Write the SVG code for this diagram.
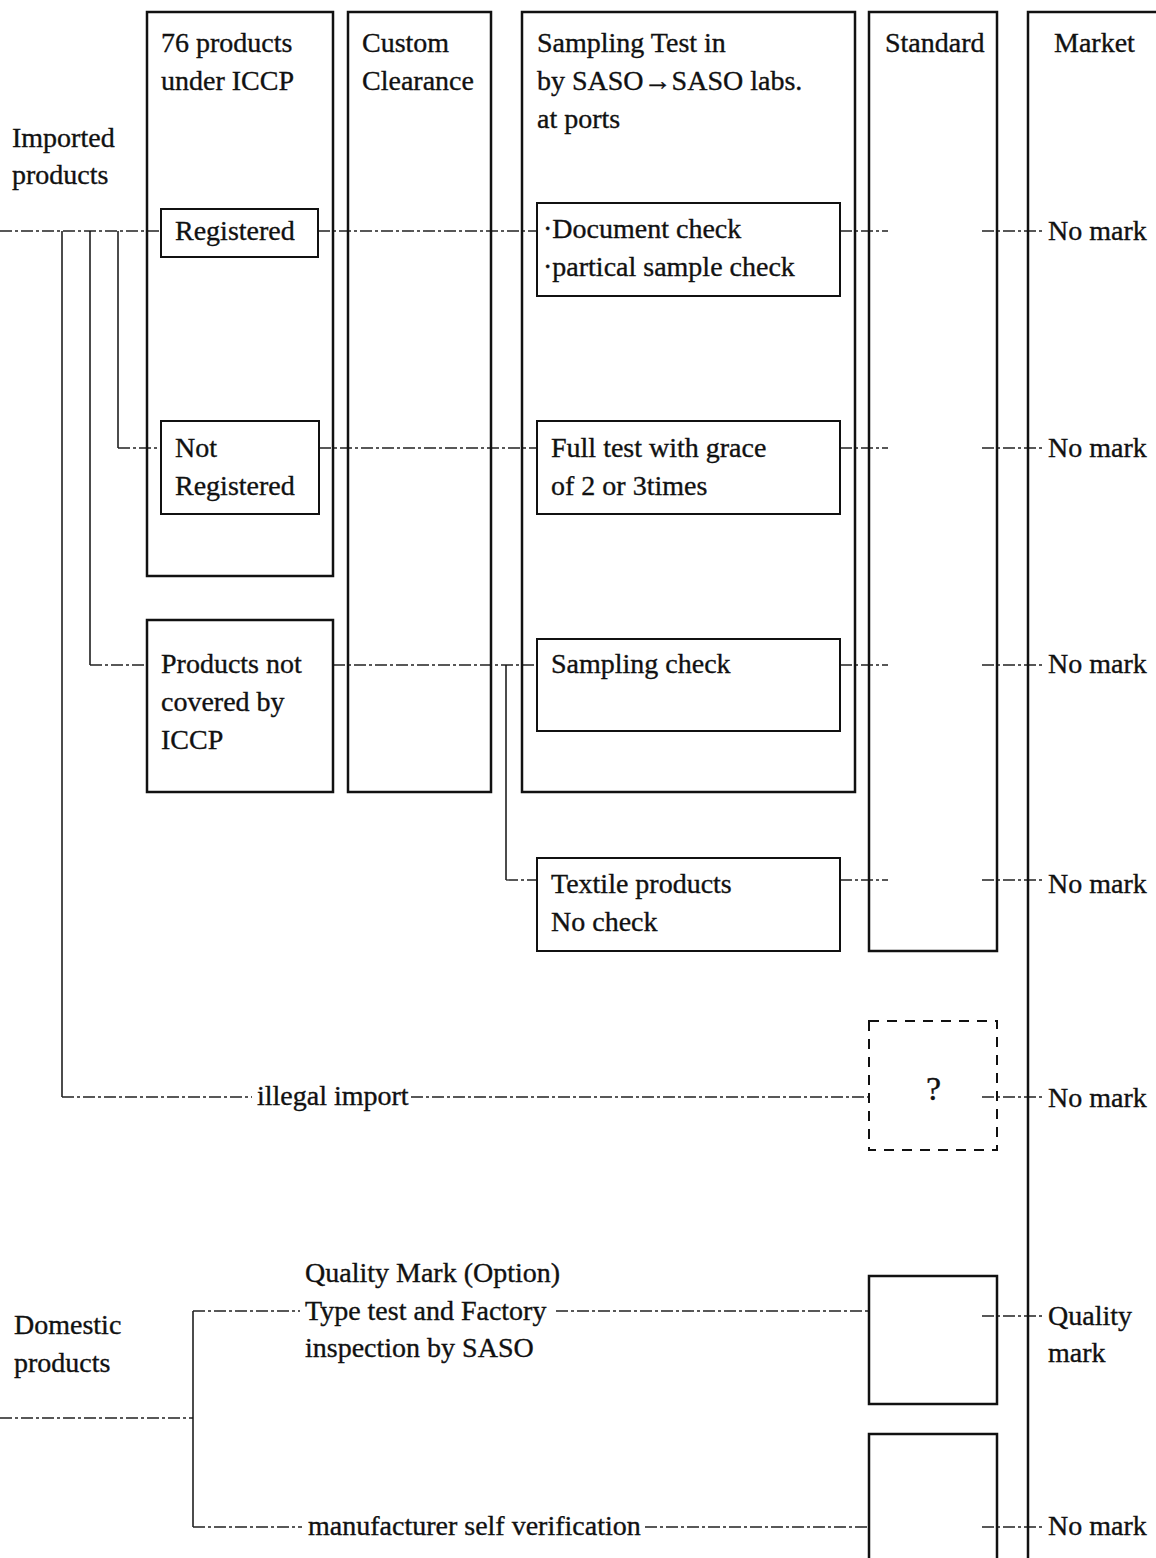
<svg xmlns="http://www.w3.org/2000/svg" width="1156" height="1558" viewBox="0 0 1156 1558">
<style>
text{font-family:"Liberation Serif","Times New Roman",serif;font-size:28px;fill:#111;stroke:#111;stroke-width:0.35}
.col{fill:none;stroke:#111;stroke-width:2.5}
.box{fill:none;stroke:#111;stroke-width:2}
.dbox{fill:none;stroke:#111;stroke-width:2;stroke-dasharray:10 8}
.c{fill:none;stroke:#222;stroke-width:1.3;stroke-dasharray:12 3 3 3}
.s{fill:none;stroke:#111;stroke-width:1.5}
</style>
<rect x="0" y="0" width="1156" height="1558" fill="#fff"/>

<g id="connectors">
  <path class="c" d="M0 231H161"/>
  <path class="s" d="M62 231V1097"/>
  <path class="s" d="M90 231V665"/>
  <path class="s" d="M118 231V448"/>
  <path class="c" d="M318 231H537"/>
  <path class="c" d="M840 231H888"/>
  <path class="c" d="M982 231H1044"/>
  <path class="c" d="M118 448H161"/>
  <path class="c" d="M319 448H537"/>
  <path class="c" d="M840 448H888"/>
  <path class="c" d="M982 448H1044"/>
  <path class="c" d="M90 665H147"/>
  <path class="c" d="M333 665H537"/>
  <path class="s" d="M506 665V880"/>
  <path class="c" d="M840 665H888"/>
  <path class="c" d="M982 665H1044"/>
  <path class="c" d="M506 880H537"/>
  <path class="c" d="M840 880H888"/>
  <path class="c" d="M982 880H1044"/>
  <path class="c" d="M62 1097H252"/>
  <path class="c" d="M411 1097H869"/>
  <path class="c" d="M982 1097H1044"/>
  <path class="c" d="M0 1418H193"/>
  <path class="s" d="M193 1311V1527"/>
  <path class="c" d="M193 1311H300"/>
  <path class="c" d="M556 1311H869"/>
  <path class="c" d="M982 1316H1044"/>
  <path class="c" d="M193 1527H302"/>
  <path class="c" d="M645 1527H869"/>
  <path class="c" d="M982 1527H1044"/>
</g>

<g id="label-imported">
  <text x="12" y="147">Imported</text>
  <text x="12" y="184">products</text>
</g>
<g id="label-domestic">
  <text x="14" y="1334">Domestic</text>
  <text x="14" y="1372">products</text>
</g>

<g id="col-iccp">
  <rect class="col" x="147" y="12" width="186" height="564"/>
  <text x="161" y="52">76 products</text>
  <text x="161" y="90">under ICCP</text>
</g>
<g id="col-custom">
  <rect class="col" x="348" y="12" width="143" height="780"/>
  <text x="362" y="52">Custom</text>
  <text x="362" y="90">Clearance</text>
</g>
<g id="col-sampling">
  <rect class="col" x="522" y="12" width="333" height="780"/>
  <text x="537" y="52">Sampling Test in</text>
  <text x="537" y="90">by SASO→SASO labs.</text>
  <text x="537" y="128">at ports</text>
</g>
<g id="col-standard">
  <rect class="col" x="869" y="12" width="128" height="939"/>
  <text x="885" y="52">Standard</text>
</g>
<g id="col-market">
  <path class="col" d="M1028 1560V12H1160"/>
  <text x="1054" y="52">Market</text>
</g>

<g id="registered">
  <rect class="box" x="161" y="209" width="157" height="48"/>
  <text x="175" y="240">Registered</text>
</g>
<g id="not-registered">
  <rect class="box" x="161" y="421" width="158" height="93"/>
  <text x="175" y="457">Not</text>
  <text x="175" y="495">Registered</text>
</g>
<g id="not-covered">
  <rect class="col" x="147" y="620" width="186" height="172"/>
  <text x="161" y="673">Products not</text>
  <text x="161" y="711">covered by</text>
  <text x="161" y="749">ICCP</text>
</g>
<g id="document-check">
  <rect class="box" x="537" y="203" width="303" height="93"/>
  <text x="543" y="238">·Document check</text>
  <text x="543" y="276">·partical sample check</text>
</g>
<g id="full-test">
  <rect class="box" x="537" y="421" width="303" height="93"/>
  <text x="551" y="457">Full test with grace</text>
  <text x="551" y="495">of 2 or 3times</text>
</g>
<g id="sampling-check">
  <rect class="box" x="537" y="639" width="303" height="92"/>
  <text x="551" y="673">Sampling check</text>
</g>
<g id="textile">
  <rect class="box" x="537" y="858" width="303" height="93"/>
  <text x="551" y="893">Textile products</text>
  <text x="551" y="931">No check</text>
</g>
<g id="unknown">
  <rect class="dbox" x="869" y="1021" width="128" height="129"/>
  <text x="926" y="1100" style="font-size:34px">?</text>
</g>
<g id="illegal-import">
  <text x="257" y="1105">illegal import</text>
</g>
<g id="quality-option">
  <text x="305" y="1282">Quality Mark (Option)</text>
  <text x="305" y="1320">Type test and Factory</text>
  <text x="305" y="1357">inspection by SASO</text>
</g>
<g id="self-verification">
  <text x="308" y="1535">manufacturer self verification</text>
</g>
<g id="standard-quality">
  <rect class="col" x="869" y="1276" width="128" height="128"/>
</g>
<g id="standard-self">
  <path class="col" d="M869 1562V1434H997V1562"/>
</g>

<g id="market-labels">
  <text x="1048" y="240">No mark</text>
  <text x="1048" y="457">No mark</text>
  <text x="1048" y="673">No mark</text>
  <text x="1048" y="893">No mark</text>
  <text x="1048" y="1107">No mark</text>
  <text x="1048" y="1325">Quality</text>
  <text x="1048" y="1362">mark</text>
  <text x="1048" y="1535">No mark</text>
</g>
</svg>
